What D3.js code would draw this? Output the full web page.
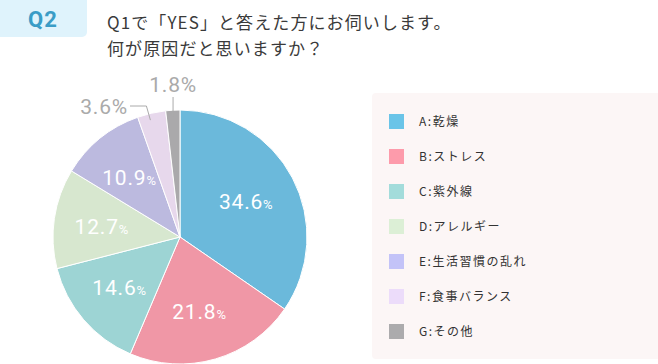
<!DOCTYPE html>
<html><head><meta charset="utf-8">
<script src="https://cdn.jsdelivr.net/npm/d3@7"></script>
<style>
html,body{margin:0;padding:0;background:#fff;}
svg{display:block;}
</style></head>
<body>
<svg id="chart" width="658" height="364"></svg>
<script>
const categories = ["A:乾燥","B:ストレス","C:紫外線","D:アレルギー","E:生活習慣の乱れ","F:食事バランス","G:その他"];
const values = [34.6, 21.8, 14.6, 12.7, 10.9, 3.6, 1.8];
const sliceColors = ["#6bb9db","#f097a6","#9dd4d4","#d7e7cf","#bcbadf","#e7d8ec","#aaa9ab"];
const legendColors = ["#6ac4e8","#fd9bab","#a3dcdb","#dcefd6","#c3c3f8","#ecdcfa","#acabad"];
const titleLines = ["Q1で「YES」と答えた方にお伺いします。","何が原因だと思いますか？"];
const badge = "Q2";

const svg = d3.select("#chart");
const font = "'Noto Sans CJK JP', sans-serif";

// badge
svg.append("rect").attr("x",-6).attr("y",-6).attr("width",93).attr("height",43).attr("rx",5).attr("fill","#dff3fc");
svg.append("text").attr("x",43).attr("y",27).attr("text-anchor","middle")
  .attr("font-family","Roboto, sans-serif").attr("font-weight",700).attr("font-size",22)
  .attr("fill","#3a9cc6").attr("letter-spacing",1).text(badge);

// title
svg.selectAll("text.title").data(titleLines).join("text").attr("class","title")
  .attr("x",107).attr("y",(d,i)=>29+i*26)
  .attr("font-family",font).attr("font-size",17).attr("fill","#3a3a3a").attr("letter-spacing",1.1)
  .text(d=>d);

// pie
const cx = 180, cy = 237, R = 127;
const pie = d3.pie().sort(null).value(d=>d)(values);
const arc = d3.arc().innerRadius(0).outerRadius(R);
const g = svg.append("g").attr("transform",`translate(${cx},${cy})`);
g.selectAll("path").data(pie).join("path")
  .attr("d",arc).attr("fill",(d,i)=>sliceColors[i])
  .attr("stroke","#fff").attr("stroke-width",1);

const labelArc = d3.arc().innerRadius(77).outerRadius(77);
const fmt = d3.format(".1f");
const inside = pie.filter(d=>d.value>=5);
const lbl = g.selectAll("text.in").data(inside).join("text").attr("class","in")
  .attr("transform",d=>{const c=labelArc.centroid(d);return `translate(${c[0]-2},${c[1]+8})`;})
  .attr("text-anchor","middle").attr("fill","#fff")
  .attr("font-family","Roboto, sans-serif").attr("font-weight",400).attr("font-size",21).attr("letter-spacing",0.8);
lbl.append("tspan").text(d=>fmt(d.value));
lbl.append("tspan").attr("font-size",13).text("%");

// outside labels
const small = pie.filter(d=>d.value<5);
small.forEach(d=>{
  const mid = (d.startAngle+d.endAngle)/2;
  const p = [Math.sin(mid)*(R-4), -Math.cos(mid)*(R-4)];
  let tx, ty, anchor, path;
  if (d.value < 2.5) {
    tx = p[0]; ty = -R - 18; anchor = "middle";
    path = [[p[0], p[1]+2],[p[0], -R-13]];
  } else {
    tx = -52; ty = -R + 4; anchor = "end";
    path = [[p[0]-2, p[1]+3],[p[0]-6, -R-4],[-50, -R-4]];
  }
  g.append("path").attr("d",d3.line()(path)).attr("fill","none").attr("stroke","#aaa").attr("stroke-width",1);
  const t = g.append("text").attr("x",tx).attr("y",ty).attr("text-anchor",anchor)
    .attr("fill","#aaa").attr("font-family","Roboto, sans-serif").attr("font-size",21).attr("letter-spacing",0.8);
  t.append("tspan").text(fmt(d.value));
  t.append("tspan").text("%");
});

// legend
svg.append("rect").attr("x",372).attr("y",93).attr("width",300).attr("height",266).attr("rx",4).attr("fill","#fcf6f6");
const lg = svg.selectAll("g.leg").data(categories).join("g").attr("class","leg")
  .attr("transform",(d,i)=>`translate(389,${114+i*35})`);
lg.append("rect").attr("width",15).attr("height",15).attr("fill",(d,i)=>legendColors[i]);
lg.append("text").attr("x",30).attr("y",12).attr("font-family",font).attr("font-size",12)
  .attr("fill","#333").attr("letter-spacing",1.5).text(d=>d);
</script>
</body></html>
